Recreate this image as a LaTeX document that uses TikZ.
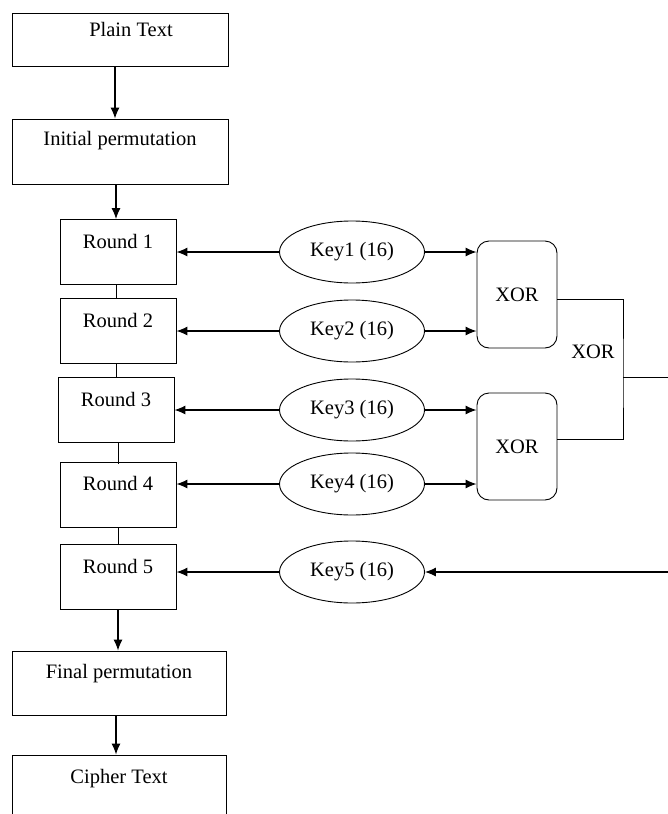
\documentclass[tikz,border=0pt]{standalone}
\usepackage{fontspec}
\setmainfont{Liberation Serif}
\usetikzlibrary{arrows.meta,shapes.geometric,calc}
\begin{document}
\begin{tikzpicture}[x=1pt,y=-1pt,
  font=\fontsize{20.5}{24}\selectfont,
  line width=0.9pt,
  box/.style={draw, rectangle, inner sep=0pt, text height=14pt, text depth=22pt},
  wide/.style={box, minimum width=216pt, minimum height=65pt},
  roundbox/.style={box, minimum width=116pt, minimum height=65pt},
  keynode/.style={draw, ellipse, inner sep=0pt, minimum width=145pt, minimum height=62pt},
  xorbox/.style={draw, rectangle, rounded corners=12pt, inner sep=0pt, minimum width=80pt, minimum height=107pt, text height=14pt, text depth=0pt},
  arr/.style={-{Latex[length=11pt,width=9pt]}, line width=1.1pt}
]
\useasboundingbox (0,0) rectangle (668,814);
\clip (0,0) rectangle (668,814);

% left column
\node[wide, minimum height=53pt, text depth=20pt] (pt) at (120,39.5) {\hspace*{22pt}Plain Text};
\node[wide, text depth=26pt] (ip) at (120,151.5) {Initial permutation};
\node[roundbox] (r1) at (118,252) {Round 1};
\node[roundbox] (r2) at (118,331) {Round 2};
\node[roundbox] (r3) at (116,410) {Round 3};
\node[roundbox] (r4) at (118,494.5) {Round 4};
\node[roundbox] (r5) at (118,577) {Round 5};
\node[wide, minimum width=214pt, minimum height=64pt, text depth=23pt] (fp) at (119,683) {Final permutation};
\node[wide, minimum width=214pt, minimum height=70pt, text depth=27pt] (ct) at (119,790) {Cipher Text};

% keys
\node[keynode] (k1) at (352,252) {Key1 (16)};
\node[keynode] (k2) at (352,331) {Key2 (16)};
\node[keynode] (k3) at (352,410) {Key3 (16)};
\node[keynode] (k4) at (352,484) {Key4 (16)};
\node[keynode] (k5) at (352,572) {Key5 (16)};

% XOR boxes
\node[xorbox] (x1) at (517,294.5) {XOR};
\node[xorbox] (x2) at (517,446.5) {XOR};
\node (xl) at (593,352) {XOR};

\coordinate (j) at (623,377);
\coordinate (outr) at (672,377);
\coordinate (inr) at (672,572);

% vertical flow
\draw[arr] (pt.south -| 115,0) -- (ip.north -| 115,0);
\draw[arr] (ip.south -| 116,0) -- (r1.north -| 116,0);
\draw (r1.south -| 116,0) -- (r2.north -| 116,0);
\draw (r2.south -| 116,0) -- (r3.north -| 116,0);
\draw (r3.south -| 118,0) -- ($(r4.north -| 118,0)+(0,-2pt)$);
\draw (r4.south -| 118,0) -- (r5.north -| 118,0);
\draw[arr] (r5.south) -- (fp.north -| r5.south);
\draw[arr] (fp.south -| 116,0) -- (ct.north -| 116,0);

% keys to rounds
\draw[arr] (k1.west) -- (k1.west -| r1.east);
\draw[arr] (k2.west) -- (k2.west -| r2.east);
\draw[arr] (k3.west) -- (k3.west -| r3.east);
\draw[arr] (k4.west) -- (k4.west -| r4.east);
\draw[arr] (k5.west) -- (k5.west -| r5.east);

% keys to XOR
\draw[arr] (k1.east) -- (k1.east -| x1.west);
\draw[arr] (k2.east) -- (k2.east -| x1.west);
\draw[arr] (k3.east) -- (k3.east -| x2.west);
\draw[arr] (k4.east) -- (k4.east -| x2.west);

% XOR outputs
\draw ([yshift=-4.5pt]x1.east) -| (j) |- ([yshift=7.5pt]x2.east);
\draw (j) -- (outr);
\draw[arr] (inr) -- (k5.east);
\end{tikzpicture}
\end{document}
